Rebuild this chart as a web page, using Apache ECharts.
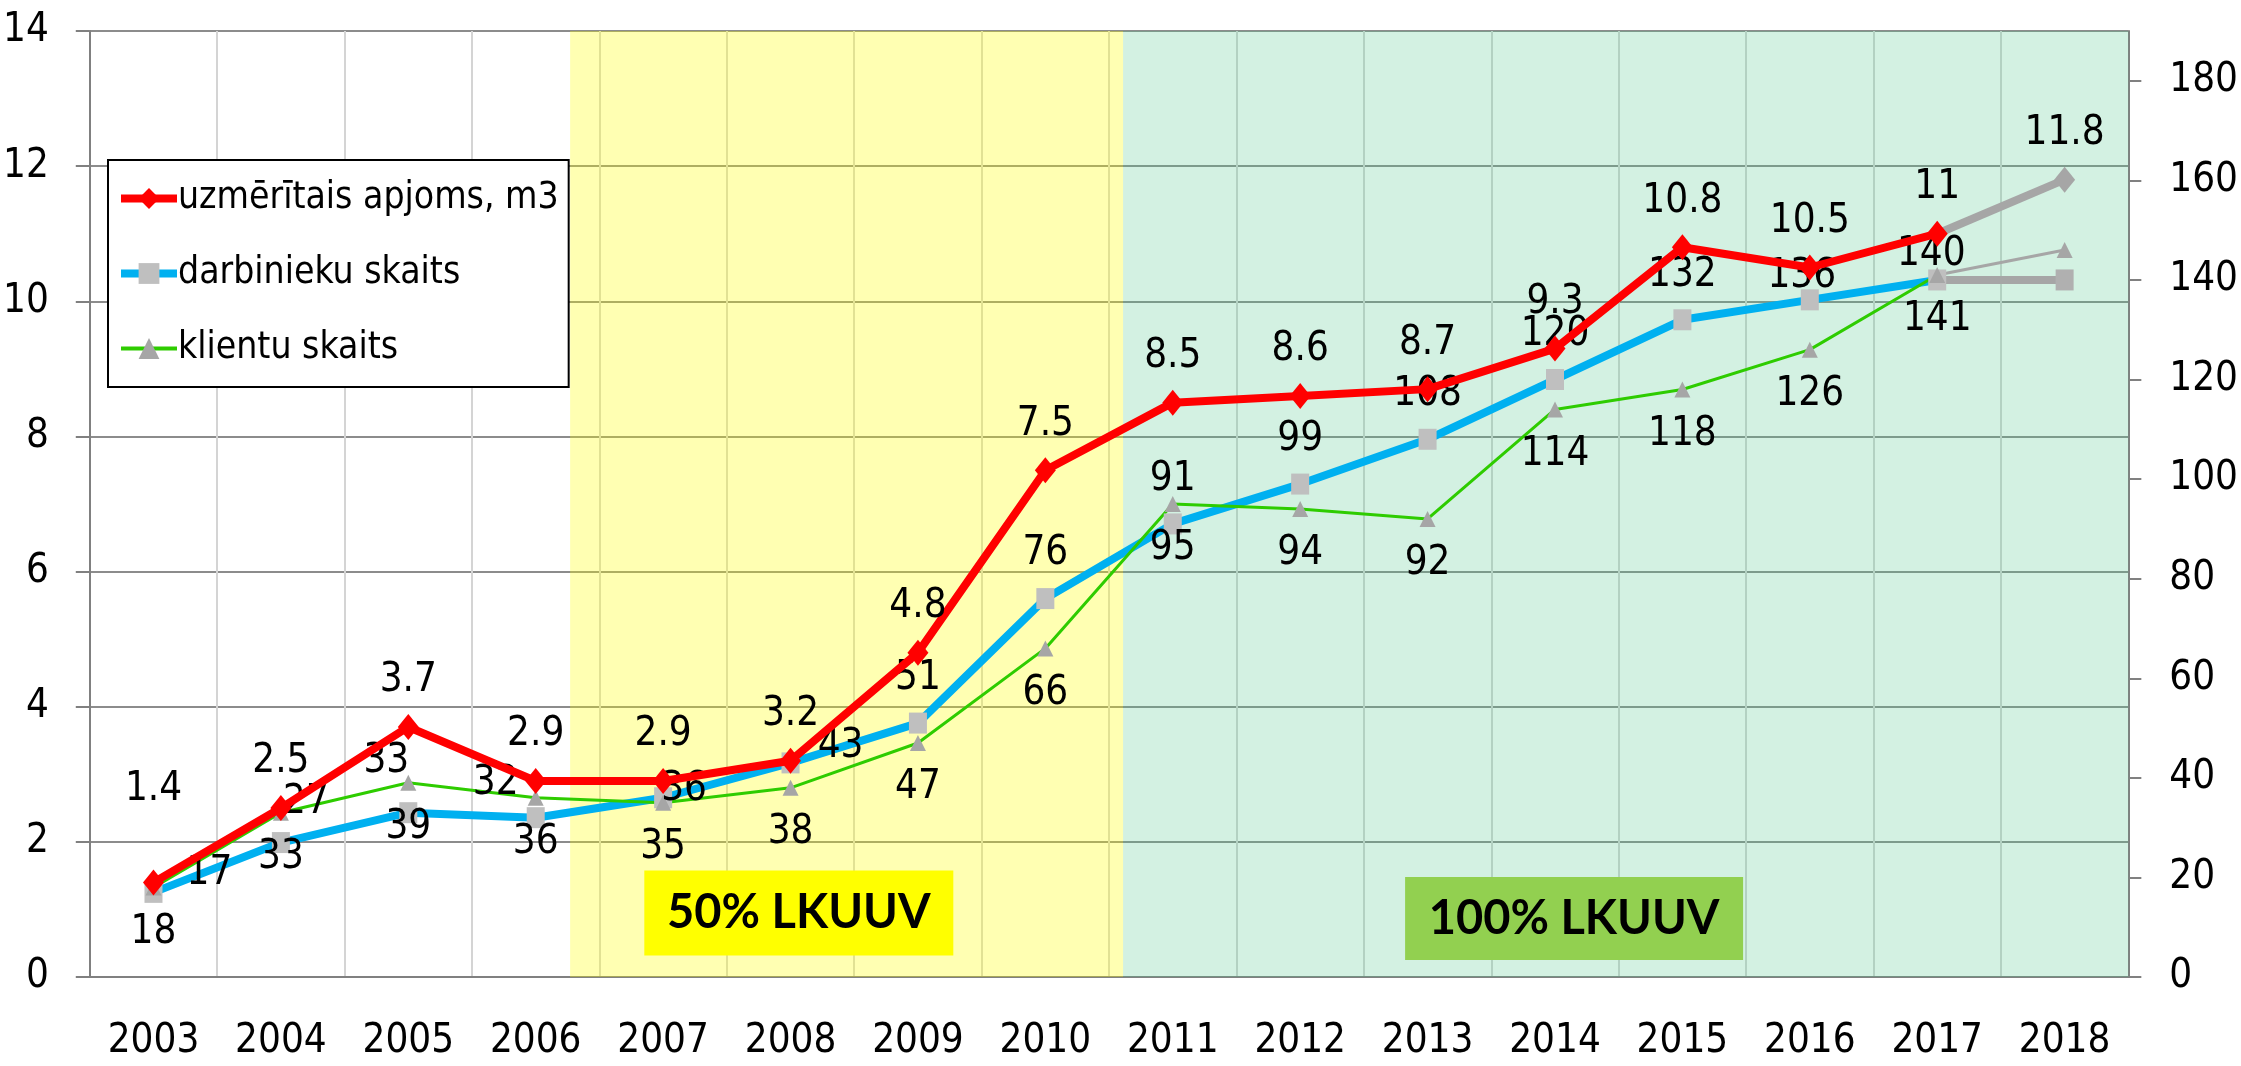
<!DOCTYPE html>
<html>
<head>
<meta charset="utf-8">
<script src="https://cdn.jsdelivr.net/npm/echarts@6/dist/echarts.min.js"></script>
<style>
  html, body { margin: 0; padding: 0; background: #fff; }
  #box { width: 2241px; height: 1066px; }
</style>
</head>
<body>
<div id="box"></div>
<script>
var years = ['2003','2004','2005','2006','2007','2008','2009','2010','2011','2012','2013','2014','2015','2016','2017','2018'];
var apjoms = [1.4, 2.5, 3.7, 2.9, 2.9, 3.2, 4.8, 7.5, 8.5, 8.6, 8.7, 9.3, 10.8, 10.5, 11, 11.8];
var darbinieki = [17, 27, 33, 32, 36, 43, 51, 76, 91, 99, 108, 120, 132, 136, 140, 140];
var klienti = [18, 33, 39, 36, 35, 38, 47, 66, 95, 94, 92, 114, 118, 126, 141, 146];
var rightTicks = [0, 20, 40, 60, 80, 100, 120, 140, 160, 180];
var lastFact = 14; // 2017, after it the grey forecast part

var names = ['uzmērītais apjoms, m3', 'darbinieku skaits', 'klientu skaits'];
var FONT = '"DejaVu Sans Condensed", "DejaVu Sans", sans-serif';
var GREY = '#A6A6A6';

// label nudges where the original labels were moved by hand
var redShift = {0: [0, -47]};
var blueShift = {0: [56, 26], 1: [25, 5], 2: [-22, -7], 3: [-40, 10], 4: [21, 36], 5: [50, 28], 13: [-8, 21], 14: [-6, 19]};

function factData(arr, shift) {
    return arr.map(function (v, i) {
        if (i > lastFact) return null;
        if (shift && shift[i]) return {value: v, label: {offset: shift[i]}};
        return v;
    });
}
function forecastData(arr, withLabel) {
    return arr.map(function (v, i) {
        if (i < lastFact) return null;
        if (i === lastFact) return {value: v, symbol: 'none', label: {show: false}};
        return {value: v, label: {show: withLabel}};
    });
}

var labelBase = {fontFamily: FONT, fontSize: 40, color: '#000'};

var dom = document.getElementById('box');
var myChart = echarts.init(dom);
var option = {
    animation: false,
    backgroundColor: '#fff',
    grid: {left: 89, right: 112, top: 31, bottom: 89},
    legend: {
        data: [
            {name: names[0], lineStyle: {width: 8}},
            {name: names[1], lineStyle: {width: 8}},
            {name: names[2], lineStyle: {width: 4}}
        ],
        orient: 'vertical',
        left: 108,
        top: 160,
        padding: [20, 10, 20, 9],
        itemGap: 38,
        itemWidth: 56,
        itemHeight: 26,
        backgroundColor: '#fff',
        borderColor: '#000',
        borderWidth: 2,
        borderRadius: 0,
        textStyle: {fontFamily: FONT, fontSize: 37, color: '#000', padding: [0, 0, 0, -4]}
    },
    xAxis: [{
        type: 'category',
        data: years,
        boundaryGap: true,
        axisLine: {lineStyle: {color: '#808080', width: 2}},
        axisTick: {show: false},
        axisLabel: {fontFamily: FONT, fontSize: 40, color: '#000', margin: 45},
        splitLine: {show: true, lineStyle: {color: '#D4D4D4', width: 2}}
    }, {
        type: 'value', min: 0, max: 16, show: false
    }],
    yAxis: [{
        type: 'value',
        min: 0, max: 14, interval: 2,
        position: 'left',
        axisLine: {show: true, lineStyle: {color: '#808080', width: 2}},
        axisTick: {show: true, length: 14, lineStyle: {color: '#808080', width: 2}},
        axisLabel: {fontFamily: FONT, fontSize: 40, color: '#000', margin: 41},
        splitLine: {lineStyle: {color: '#8C8C8C', width: 2}}
    }, {
        type: 'value',
        min: 0, max: 190, interval: 20,
        position: 'right',
        axisLine: {show: true, lineStyle: {color: '#808080', width: 2}},
        axisTick: {show: true, length: 13, customValues: rightTicks, lineStyle: {color: '#808080', width: 2}},
        axisLabel: {fontFamily: FONT, fontSize: 40, color: '#000', margin: 41, customValues: rightTicks},
        splitLine: {show: false}
    }],
    series: [
        // green band behind the lines
        {
            type: 'line', xAxisIndex: 1, yAxisIndex: 0, data: [], z: 0, silent: true,
            markArea: {
                silent: true,
                itemStyle: {color: 'rgba(80,200,140,0.25)'},
                data: [[{xAxis: 8.11}, {xAxis: 16}]]
            }
        },
        {
            name: names[1], type: 'line', yAxisIndex: 1,
            data: factData(darbinieki, blueShift),
            symbol: 'rect', symbolSize: [18, 21],
            lineStyle: {color: '#00B0F0', width: 8},
            itemStyle: {color: '#BFBFBF'},
            label: Object.assign({show: true, position: 'top', distance: 14}, labelBase),
            z: 2
        },
        {
            name: names[2], type: 'line', yAxisIndex: 1,
            data: factData(klienti),
            symbol: 'triangle', symbolSize: 16,
            lineStyle: {color: '#2ECC00', width: 3},
            itemStyle: {color: '#A6A6A6'},
            label: Object.assign({show: true, position: 'bottom', distance: 17}, labelBase),
            z: 2
        },
        {
            name: names[0], type: 'line', yAxisIndex: 0,
            data: factData(apjoms, redShift),
            symbol: 'diamond', symbolSize: [21, 26],
            lineStyle: {color: '#FF0000', width: 8},
            itemStyle: {color: '#FF0000'},
            label: Object.assign({show: true, position: 'top', distance: 13}, labelBase),
            z: 3
        },
        // grey forecast 2017 -> 2018
        {
            name: 'p1', type: 'line', yAxisIndex: 1,
            data: forecastData(darbinieki, false),
            symbol: 'rect', symbolSize: [18, 21],
            lineStyle: {color: GREY, width: 8},
            itemStyle: {color: '#B0B0B0'},
            z: 2
        },
        {
            name: 'p2', type: 'line', yAxisIndex: 1,
            data: forecastData(klienti, false),
            symbol: 'triangle', symbolSize: 16,
            lineStyle: {color: GREY, width: 3},
            itemStyle: {color: GREY},
            z: 2
        },
        {
            name: 'p0', type: 'line', yAxisIndex: 0,
            data: forecastData(apjoms, true),
            symbol: 'diamond', symbolSize: [21, 26],
            lineStyle: {color: GREY, width: 8},
            itemStyle: {color: GREY},
            label: Object.assign({show: true, position: 'top', distance: 13}, labelBase),
            z: 3
        },
        // yellow band laid over the lines
        {
            type: 'line', xAxisIndex: 1, yAxisIndex: 0, data: [], z: 5, silent: true,
            markArea: {
                silent: true,
                itemStyle: {color: 'rgba(255,255,0,0.3)'},
                data: [[{xAxis: 3.77}, {xAxis: 8.11}]]
            }
        },
        // the two captions
        {
            type: 'line', xAxisIndex: 1, yAxisIndex: 0, data: [], z: 6, silent: true,
            markPoint: {
                silent: true,
                symbol: 'rect',
                label: {show: true, position: 'inside', fontFamily: 'Lato, "Open Sans", sans-serif', fontWeight: 'bold', fontSize: 47, color: '#000'},
                data: [
                    {coord: [5.565, 0.947], symbolSize: [309, 85], itemStyle: {color: '#FFFF00'}, label: {formatter: '50% LKUUV'}},
                    {coord: [11.65, 0.866], symbolSize: [338, 83], itemStyle: {color: '#92D050'}, label: {formatter: '100% LKUUV'}}
                ]
            }
        }
    ]
};
myChart.setOption(option, true);
</script>
</body>
</html>
